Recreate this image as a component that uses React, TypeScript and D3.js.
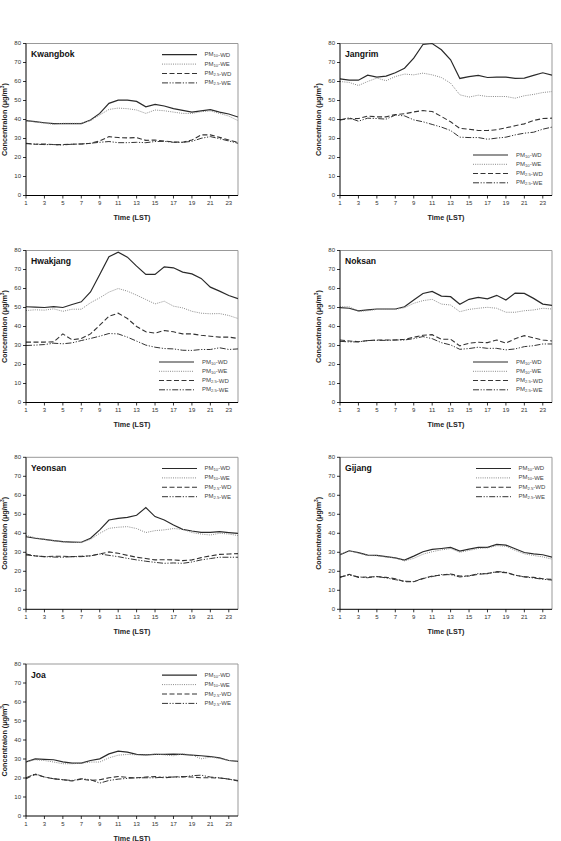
import React from "react";
import * as d3 from "d3";

const hours = d3.range(1, 25);
const xTicks = [1, 3, 5, 7, 9, 11, 13, 15, 17, 19, 21, 23];
const yTicks = [0, 10, 20, 30, 40, 50, 60, 70, 80];
const seriesNames = ["PM10-WD", "PM10-WE", "PM2.5-WD", "PM2.5-WE"];

const kwangbokPm10Wd = [39.4, 38.9, 38.3, 37.8, 37.8, 37.8, 37.8, 39.7, 43.2, 48.5, 50.2, 50.2, 49.5, 46.7, 48.0, 47.1, 45.7, 44.8, 43.9, 44.5, 45.2, 43.9, 42.9, 41.3];
const kwangbokPm10We = [39.4, 38.7, 38.0, 37.5, 38.0, 38.0, 38.0, 39.4, 42.4, 45.3, 46.0, 45.7, 45.0, 43.2, 45.0, 44.6, 43.9, 43.2, 43.2, 44.1, 44.5, 43.2, 41.8, 39.4];
const kwangbokPm25Wd = [27.5, 27.0, 27.1, 26.8, 26.8, 27.0, 27.1, 27.5, 28.7, 31.0, 30.5, 30.3, 30.5, 29.0, 29.2, 28.7, 28.2, 28.0, 29.2, 31.9, 31.9, 30.6, 29.2, 28.0];
const kwangbokPm25We = [27.3, 27.0, 26.8, 26.8, 26.6, 27.0, 27.1, 27.5, 28.0, 28.4, 27.8, 27.8, 28.0, 27.8, 28.4, 28.5, 28.0, 28.0, 28.5, 30.1, 31.0, 29.9, 28.7, 27.5];

const jangrimPm10Wd = [61.4, 60.7, 60.7, 63.3, 62.3, 62.8, 64.6, 67.0, 72.3, 79.5, 80.0, 76.7, 71.4, 61.6, 62.6, 63.2, 62.1, 62.3, 62.3, 61.6, 61.8, 63.2, 64.6, 63.3];
const jangrimPm10We = [60.0, 59.5, 57.9, 60.0, 61.8, 60.4, 62.6, 63.9, 63.5, 64.4, 63.5, 62.1, 59.1, 53.0, 51.8, 52.8, 52.1, 52.1, 52.1, 51.2, 52.5, 53.2, 54.2, 54.7];
const jangrimPm25Wd = [39.8, 40.4, 40.5, 41.8, 41.4, 41.4, 42.6, 43.0, 44.0, 44.7, 44.2, 41.6, 38.8, 35.3, 34.9, 34.2, 34.2, 34.6, 35.6, 36.7, 37.7, 39.5, 40.5, 40.7];
const jangrimPm25We = [39.8, 40.9, 39.1, 40.7, 40.5, 40.2, 42.3, 41.9, 39.8, 38.8, 37.4, 36.0, 34.2, 30.7, 30.5, 30.5, 29.6, 30.2, 30.7, 31.9, 32.8, 33.3, 34.9, 36.0];

const hwakjangPm10Wd = [50.4, 50.2, 50.0, 50.5, 50.0, 51.6, 53.0, 58.2, 67.4, 76.7, 79.1, 76.5, 71.8, 67.4, 67.4, 71.4, 70.9, 68.6, 67.7, 65.3, 60.7, 58.6, 56.3, 54.7];
const hwakjangPm10We = [48.4, 48.8, 48.6, 49.3, 48.0, 49.1, 49.1, 52.5, 55.1, 58.1, 60.0, 58.6, 56.5, 54.2, 51.9, 53.3, 50.7, 49.8, 48.0, 47.0, 46.7, 46.8, 45.8, 44.2];
const hwakjangPm25Wd = [31.8, 31.8, 31.8, 31.9, 36.1, 33.0, 33.7, 36.1, 40.7, 45.4, 47.0, 44.2, 40.0, 37.2, 36.5, 37.9, 37.2, 36.1, 36.1, 35.4, 34.9, 34.4, 34.4, 33.7];
const hwakjangPm25We = [30.0, 30.2, 30.5, 31.2, 30.9, 31.4, 32.6, 33.7, 34.9, 36.3, 36.1, 34.4, 32.3, 30.2, 29.1, 28.4, 28.2, 27.5, 27.4, 27.9, 27.9, 28.8, 27.9, 28.2];

const noksanPm10Wd = [49.9, 49.6, 48.2, 48.7, 49.2, 49.2, 49.2, 50.4, 53.9, 57.4, 58.5, 56.0, 55.7, 51.7, 54.3, 55.3, 54.6, 56.4, 53.9, 57.6, 57.4, 54.8, 51.8, 51.1];
const noksanPm10We = [50.4, 50.4, 48.0, 48.3, 49.0, 49.0, 49.0, 49.9, 52.2, 53.6, 54.3, 51.8, 51.3, 47.8, 49.0, 49.6, 50.1, 49.6, 47.5, 47.5, 48.3, 48.7, 49.6, 49.2];
const noksanPm25Wd = [32.9, 32.4, 32.0, 32.6, 32.9, 32.9, 32.9, 33.3, 34.3, 35.4, 35.7, 33.3, 33.3, 29.8, 31.2, 31.7, 31.5, 32.9, 31.2, 33.6, 35.2, 34.0, 32.9, 32.4];
const noksanPm25We = [32.2, 31.9, 31.9, 32.6, 32.7, 32.7, 32.9, 32.9, 33.6, 34.7, 33.6, 31.5, 30.3, 28.0, 28.4, 29.1, 28.5, 28.5, 27.7, 28.2, 29.4, 29.9, 30.8, 30.8];

const yeonsanPm10Wd = [38.2, 37.4, 36.8, 36.1, 35.6, 35.4, 35.3, 37.4, 41.8, 47.0, 47.9, 48.4, 49.5, 53.5, 48.8, 47.0, 44.4, 42.1, 41.2, 40.5, 40.5, 40.9, 40.4, 40.0];
const yeonsanPm10We = [38.9, 37.7, 36.8, 36.0, 35.4, 35.3, 35.1, 36.8, 40.0, 42.6, 43.2, 43.5, 42.5, 40.4, 41.4, 41.8, 42.5, 42.1, 40.4, 39.6, 39.1, 40.0, 39.6, 38.8];
const yeonsanPm25Wd = [29.1, 28.1, 27.7, 27.9, 27.9, 27.7, 27.9, 28.2, 29.1, 30.2, 29.5, 28.4, 27.4, 26.7, 26.0, 26.1, 26.0, 25.6, 26.0, 27.2, 28.1, 28.9, 29.1, 29.3];
const yeonsanPm25We = [28.6, 28.1, 27.7, 27.5, 27.4, 27.7, 27.7, 28.1, 29.1, 28.4, 27.7, 26.8, 26.0, 25.3, 24.7, 24.2, 24.4, 24.2, 24.9, 26.0, 26.7, 27.4, 27.4, 27.4];

const gijangPm10Wd = [28.7, 30.8, 29.8, 28.5, 28.4, 27.7, 27.1, 25.9, 28.0, 30.3, 31.5, 32.0, 32.6, 30.6, 31.7, 32.6, 32.6, 34.2, 33.8, 31.9, 29.9, 29.2, 28.7, 27.5];
const gijangPm10We = [28.7, 30.8, 29.6, 28.3, 28.2, 27.5, 27.0, 25.5, 26.8, 29.0, 30.3, 31.3, 32.0, 30.0, 31.0, 32.0, 32.3, 33.5, 33.2, 31.0, 29.2, 28.3, 27.6, 26.4];
const gijangPm25Wd = [16.8, 18.4, 16.8, 17.0, 17.2, 16.8, 16.1, 14.5, 14.5, 16.1, 17.5, 18.0, 18.6, 17.5, 17.5, 18.4, 18.9, 19.6, 19.3, 17.9, 17.2, 16.8, 16.1, 15.8];
const gijangPm25We = [17.0, 18.0, 17.1, 16.6, 17.3, 16.5, 15.6, 14.8, 14.6, 16.3, 17.2, 18.3, 18.2, 17.0, 17.6, 18.8, 18.7, 19.9, 19.5, 18.0, 17.0, 16.5, 15.8, 15.4];

const joaPm10Wd = [28.5, 30.1, 29.8, 29.6, 28.5, 27.8, 27.8, 29.2, 30.1, 32.7, 34.1, 33.6, 32.4, 32.2, 32.4, 32.4, 32.6, 32.4, 32.0, 31.7, 31.3, 30.6, 29.2, 28.7];
const joaPm10We = [28.5, 29.6, 29.2, 28.4, 27.5, 27.5, 27.8, 28.4, 28.4, 30.6, 32.0, 32.4, 32.2, 32.0, 32.6, 32.2, 31.7, 32.7, 32.2, 30.1, 31.0, 30.3, 29.2, 28.7];
const joaPm25Wd = [19.6, 21.9, 20.5, 19.6, 19.1, 18.4, 19.4, 18.7, 19.1, 20.1, 20.8, 20.3, 20.1, 20.5, 20.8, 20.1, 20.5, 20.8, 20.5, 20.1, 20.1, 20.0, 19.4, 18.7];
const joaPm25We = [20.1, 22.2, 20.5, 19.6, 19.1, 18.7, 19.6, 19.1, 17.3, 18.7, 19.4, 19.8, 20.1, 20.1, 20.1, 20.5, 20.5, 20.5, 21.2, 21.5, 20.5, 20.1, 19.4, 18.4];

const siteNames = ["Kwangbok", "Jangrim", "Hwakjang", "Noksan", "Yeonsan", "Gijang", "Joa"];

const panels = [
  { name: siteNames[0], series: [kwangbokPm10Wd, kwangbokPm10We, kwangbokPm25Wd, kwangbokPm25We], legendBottom: false },
  { name: siteNames[1], series: [jangrimPm10Wd, jangrimPm10We, jangrimPm25Wd, jangrimPm25We], legendBottom: true },
  { name: siteNames[2], series: [hwakjangPm10Wd, hwakjangPm10We, hwakjangPm25Wd, hwakjangPm25We], legendBottom: true },
  { name: siteNames[3], series: [noksanPm10Wd, noksanPm10We, noksanPm25Wd, noksanPm25We], legendBottom: true },
  { name: siteNames[4], series: [yeonsanPm10Wd, yeonsanPm10We, yeonsanPm25Wd, yeonsanPm25We], legendBottom: false },
  { name: siteNames[5], series: [gijangPm10Wd, gijangPm10We, gijangPm25Wd, gijangPm25We], legendBottom: false },
  { name: siteNames[6], series: [joaPm10Wd, joaPm10We, joaPm25Wd, joaPm25We], legendBottom: false },
];

const styles = [
  { stroke: "#2a2a2a", width: 1.2, dash: "" },
  { stroke: "#8a8a8a", width: 1.0, dash: "1,1.2" },
  { stroke: "#333", width: 1.1, dash: "5,2.5" },
  { stroke: "#333", width: 1.0, dash: "6,1.6,1.2,1.6,1.2,1.6" },
];

const W = 212;
const H = 152;
const lefts = [26, 340];
const tops = [43.5, 250.5, 457.3, 664];
const FONT = "Liberation Sans, Arial, sans-serif";

function LegendLabel({ name, x, y }: { name: string; x: number; y: number }) {
  const [pm, rest] = name.split("-");
  const sub = pm.replace("PM", "");
  return (
    <text x={x} y={y} fontSize={6} fill="#444" dominantBaseline="middle" fontFamily={FONT}>
      PM
      <tspan fontSize={4.2} dy={1.5}>{sub}</tspan>
      <tspan dy={-1.5}>-{rest}</tspan>
    </text>
  );
}

function Panel({ p, i }: { p: typeof panels[number]; i: number }) {
  const left = lefts[i % 2];
  const top = tops[Math.floor(i / 2)];
  const x = d3.scaleLinear().domain([1, 24]).range([0, W]);
  const y = d3.scaleLinear().domain([0, 80]).range([H, 0]);
  const line = d3
    .line<number>()
    .x((_, k) => x(hours[k]))
    .y((d) => y(d));
  const lx0 = p.legendBottom ? 133 : 136;
  const llab = p.legendBottom ? 176 : 178.5;
  const rows = p.legendBottom ? [111.5, 120.8, 130, 139.3] : [11.2, 20.6, 30, 39.4];
  return (
    <g transform={`translate(${left},${top})`}>
      <line x1={0} y1={0} x2={W} y2={0} stroke="#999" strokeWidth={1} />
      <line x1={W} y1={0} x2={W} y2={H} stroke="#999" strokeWidth={1} />
      <g clipPath={`url(#clip${i})`}>
        {p.series.map((s, k) => (
          <path
            key={k}
            d={line(s) || ""}
            fill="none"
            stroke={styles[k].stroke}
            strokeWidth={styles[k].width}
            strokeDasharray={styles[k].dash}
          />
        ))}
      </g>
      <line x1={0} y1={0} x2={0} y2={H} stroke="#000" strokeWidth={1} />
      <line x1={0} y1={H} x2={W} y2={H} stroke="#000" strokeWidth={1} />
      {yTicks.map((t) => (
        <g key={t}>
          <line x1={-3} x2={0} y1={y(t)} y2={y(t)} stroke="#000" strokeWidth={0.8} />
          <text x={-5} y={y(t)} fontSize={6} fill="#333" textAnchor="end" dominantBaseline="middle" fontFamily={FONT}>
            {t}
          </text>
        </g>
      ))}
      {xTicks.map((t) => (
        <g key={t}>
          <line x1={x(t)} x2={x(t)} y1={H} y2={H + 3} stroke="#000" strokeWidth={0.8} />
          <text x={x(t)} y={H + 9.5} fontSize={6} fill="#333" textAnchor="middle" fontFamily={FONT}>
            {t}
          </text>
        </g>
      ))}
      <text x={W / 2} y={H + 24.5} fontSize={7.2} fontWeight="bold" fill="#222" textAnchor="middle" fontFamily={FONT}>
        Time (LST)
      </text>
      <text
        transform={`translate(${-21},${H / 2}) rotate(-90)`}
        fontSize={7.2}
        fontWeight="bold"
        fill="#222"
        textAnchor="middle"
        dominantBaseline="middle"
        fontFamily={FONT}
      >
        Concentraion (μg/m<tspan fontSize={5} dy={-2.5}>3</tspan>
        <tspan dy={2.5}>)</tspan>
      </text>
      <text x={5} y={13.5} fontSize={8.6} fontWeight="bold" fill="#111" fontFamily={FONT}>
        {p.name}
      </text>
      {seriesNames.map((n, k) => (
        <g key={n}>
          <line
            x1={lx0}
            x2={lx0 + 35}
            y1={rows[k]}
            y2={rows[k]}
            stroke={styles[k].stroke}
            strokeWidth={styles[k].width}
            strokeDasharray={styles[k].dash}
          />
          <LegendLabel name={n} x={llab} y={rows[k]} />
        </g>
      ))}
    </g>
  );
}

export default function App() {
  return (
    <svg width={561} height={841} style={{ position: "absolute", left: 0, top: 0, background: "#fff" }}>
      <defs>
        {panels.map((_, i) => (
          <clipPath id={`clip${i}`} key={i}>
            <rect x={0} y={-1} width={W} height={H + 1} />
          </clipPath>
        ))}
      </defs>
      {panels.map((p, i) => (
        <Panel key={p.name} p={p} i={i} />
      ))}
    </svg>
  );
}
